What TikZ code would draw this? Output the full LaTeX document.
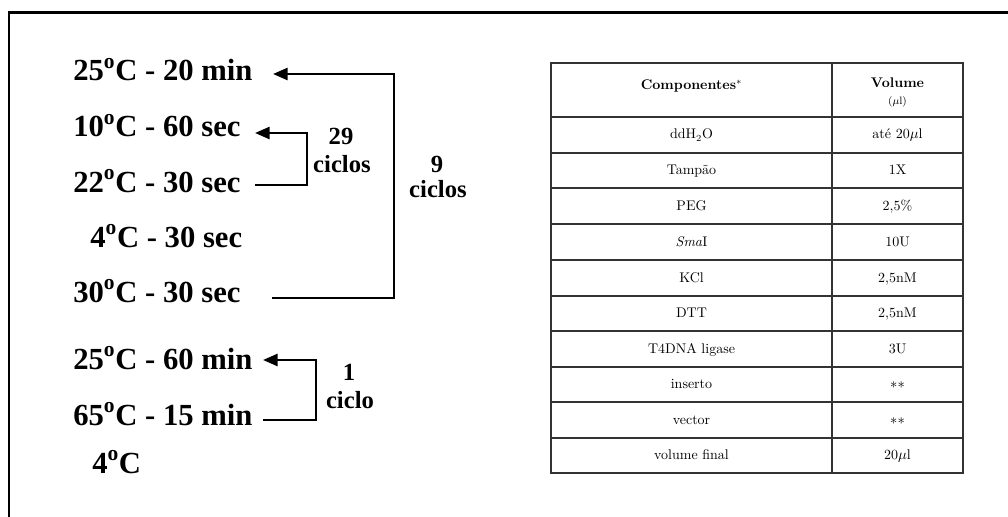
\documentclass[tikz,border=0pt]{standalone}
\usepackage{fontspec}
\newfontfamily\tnr{Liberation Serif}
\usetikzlibrary{arrows.meta}
\newcommand{\dg}{\textsuperscript{o}}
\begin{document}
\begin{tikzpicture}[x=0.75pt,y=-0.75pt,
  tstep/.style={font=\tnr\bfseries\fontsize{23}{27}\selectfont, anchor=base west, inner sep=0pt},
  cyc/.style={font=\tnr\bfseries\fontsize{18.5}{22}\selectfont, anchor=base, inner sep=0pt},
  looparrow/.style={line width=2pt, line join=miter, -{Triangle[length=11pt,width=9pt]}},
  frameline/.style={line width=2.2pt, black},
  grid/.style={line width=1.3pt, black!80},
  cell/.style={font=\fontsize{10.5}{12}\selectfont, anchor=base, inner sep=0pt},
  hcell/.style={font=\bfseries\fontsize{10.5}{12}\selectfont, anchor=base, inner sep=0pt}]
\useasboundingbox (0,0) rectangle (1008,517);
% frame
\draw[frameline] (9,517) -- (9,12.5) -- (1008,12.5);

% temperature steps
\node[tstep] (t1) at (73,81)  {25\dg C - 20 min};
\node[tstep] (t2) at (73,137) {10\dg C - 60 sec};
\node[tstep] (t3) at (73,192) {22\dg C - 30 sec};
\node[tstep] (t4) at (90,247) {4\dg C - 30 sec};
\node[tstep] (t5) at (73,302) {30\dg C - 30 sec};
\node[tstep] (t6) at (73,369) {25\dg C - 60 min};
\node[tstep] (t7) at (73,425) {65\dg C - 15 min};
\node[tstep] (t8) at (92,473) {4\dg C};

% loop end points
\coordinate (a9s) at (272,298);
\coordinate (a9e) at (273,74);
\coordinate (a29s) at (255,185);
\coordinate (a29e) at (255,133);
\coordinate (a1s) at (263,420);
\coordinate (a1e) at (263,360);

\draw[looparrow] (a9s) -- ++(122,0) |- (a9e);
\draw[looparrow] (a29s) -- ++(52,0) |- (a29e);
\draw[looparrow] (a1s) -- ++(53,0) |- (a1e);

% cycle labels
\node[cyc] (c29a) at (341,145) {29};
\node[cyc] (c29b) at (342,173) {ciclos};
\node[cyc] (c9a) at (437,173) {9};
\node[cyc] (c9b) at (438,198) {ciclos};
\node[cyc] (c1a) at (349,380) {1};
\node[cyc] (c1b) at (350,408) {ciclo};

% table grid
\draw[grid] (551,63) rectangle (963,473);
\draw[grid] (832,63) -- (832,473);
\foreach \yy in {117,153,188,224,260,296,331,367,402,438}
  \draw[grid] (551,\yy) -- (963,\yy);

% header
\node[hcell] (hcomp) at (691.5,90) {Componentes$^{*}$};
\node[hcell] (hvol) at (897.5,88) {Volume};
\node[cell, font=\fontsize{8}{9}\selectfont] (hunit) at (897.5,105) {($\mu$l)};

% body
\foreach \yc/\na/\nb [count=\i] in {
  135/{ddH$_2$O}/{até 20$\mu$l},
  170.5/{Tampão}/{1X},
  206/{PEG}/{2,5\%},
  242/{\textit{Sma}I}/{10U},
  278/{KCl}/{2,5nM},
  313.5/{DTT}/{2,5nM},
  349/{T4DNA ligase}/{3U},
  384.5/{inserto}/{${\ast}{\ast}$},
  420/{vector}/{${\ast}{\ast}$},
  455.5/{volume final}/{20$\mu$l}} {
  \node[cell] (ca\i) at (691.5,\yc+4) {\na};
  \node[cell] (cb\i) at (897.5,\yc+4) {\nb};
}
\end{tikzpicture}
\end{document}
